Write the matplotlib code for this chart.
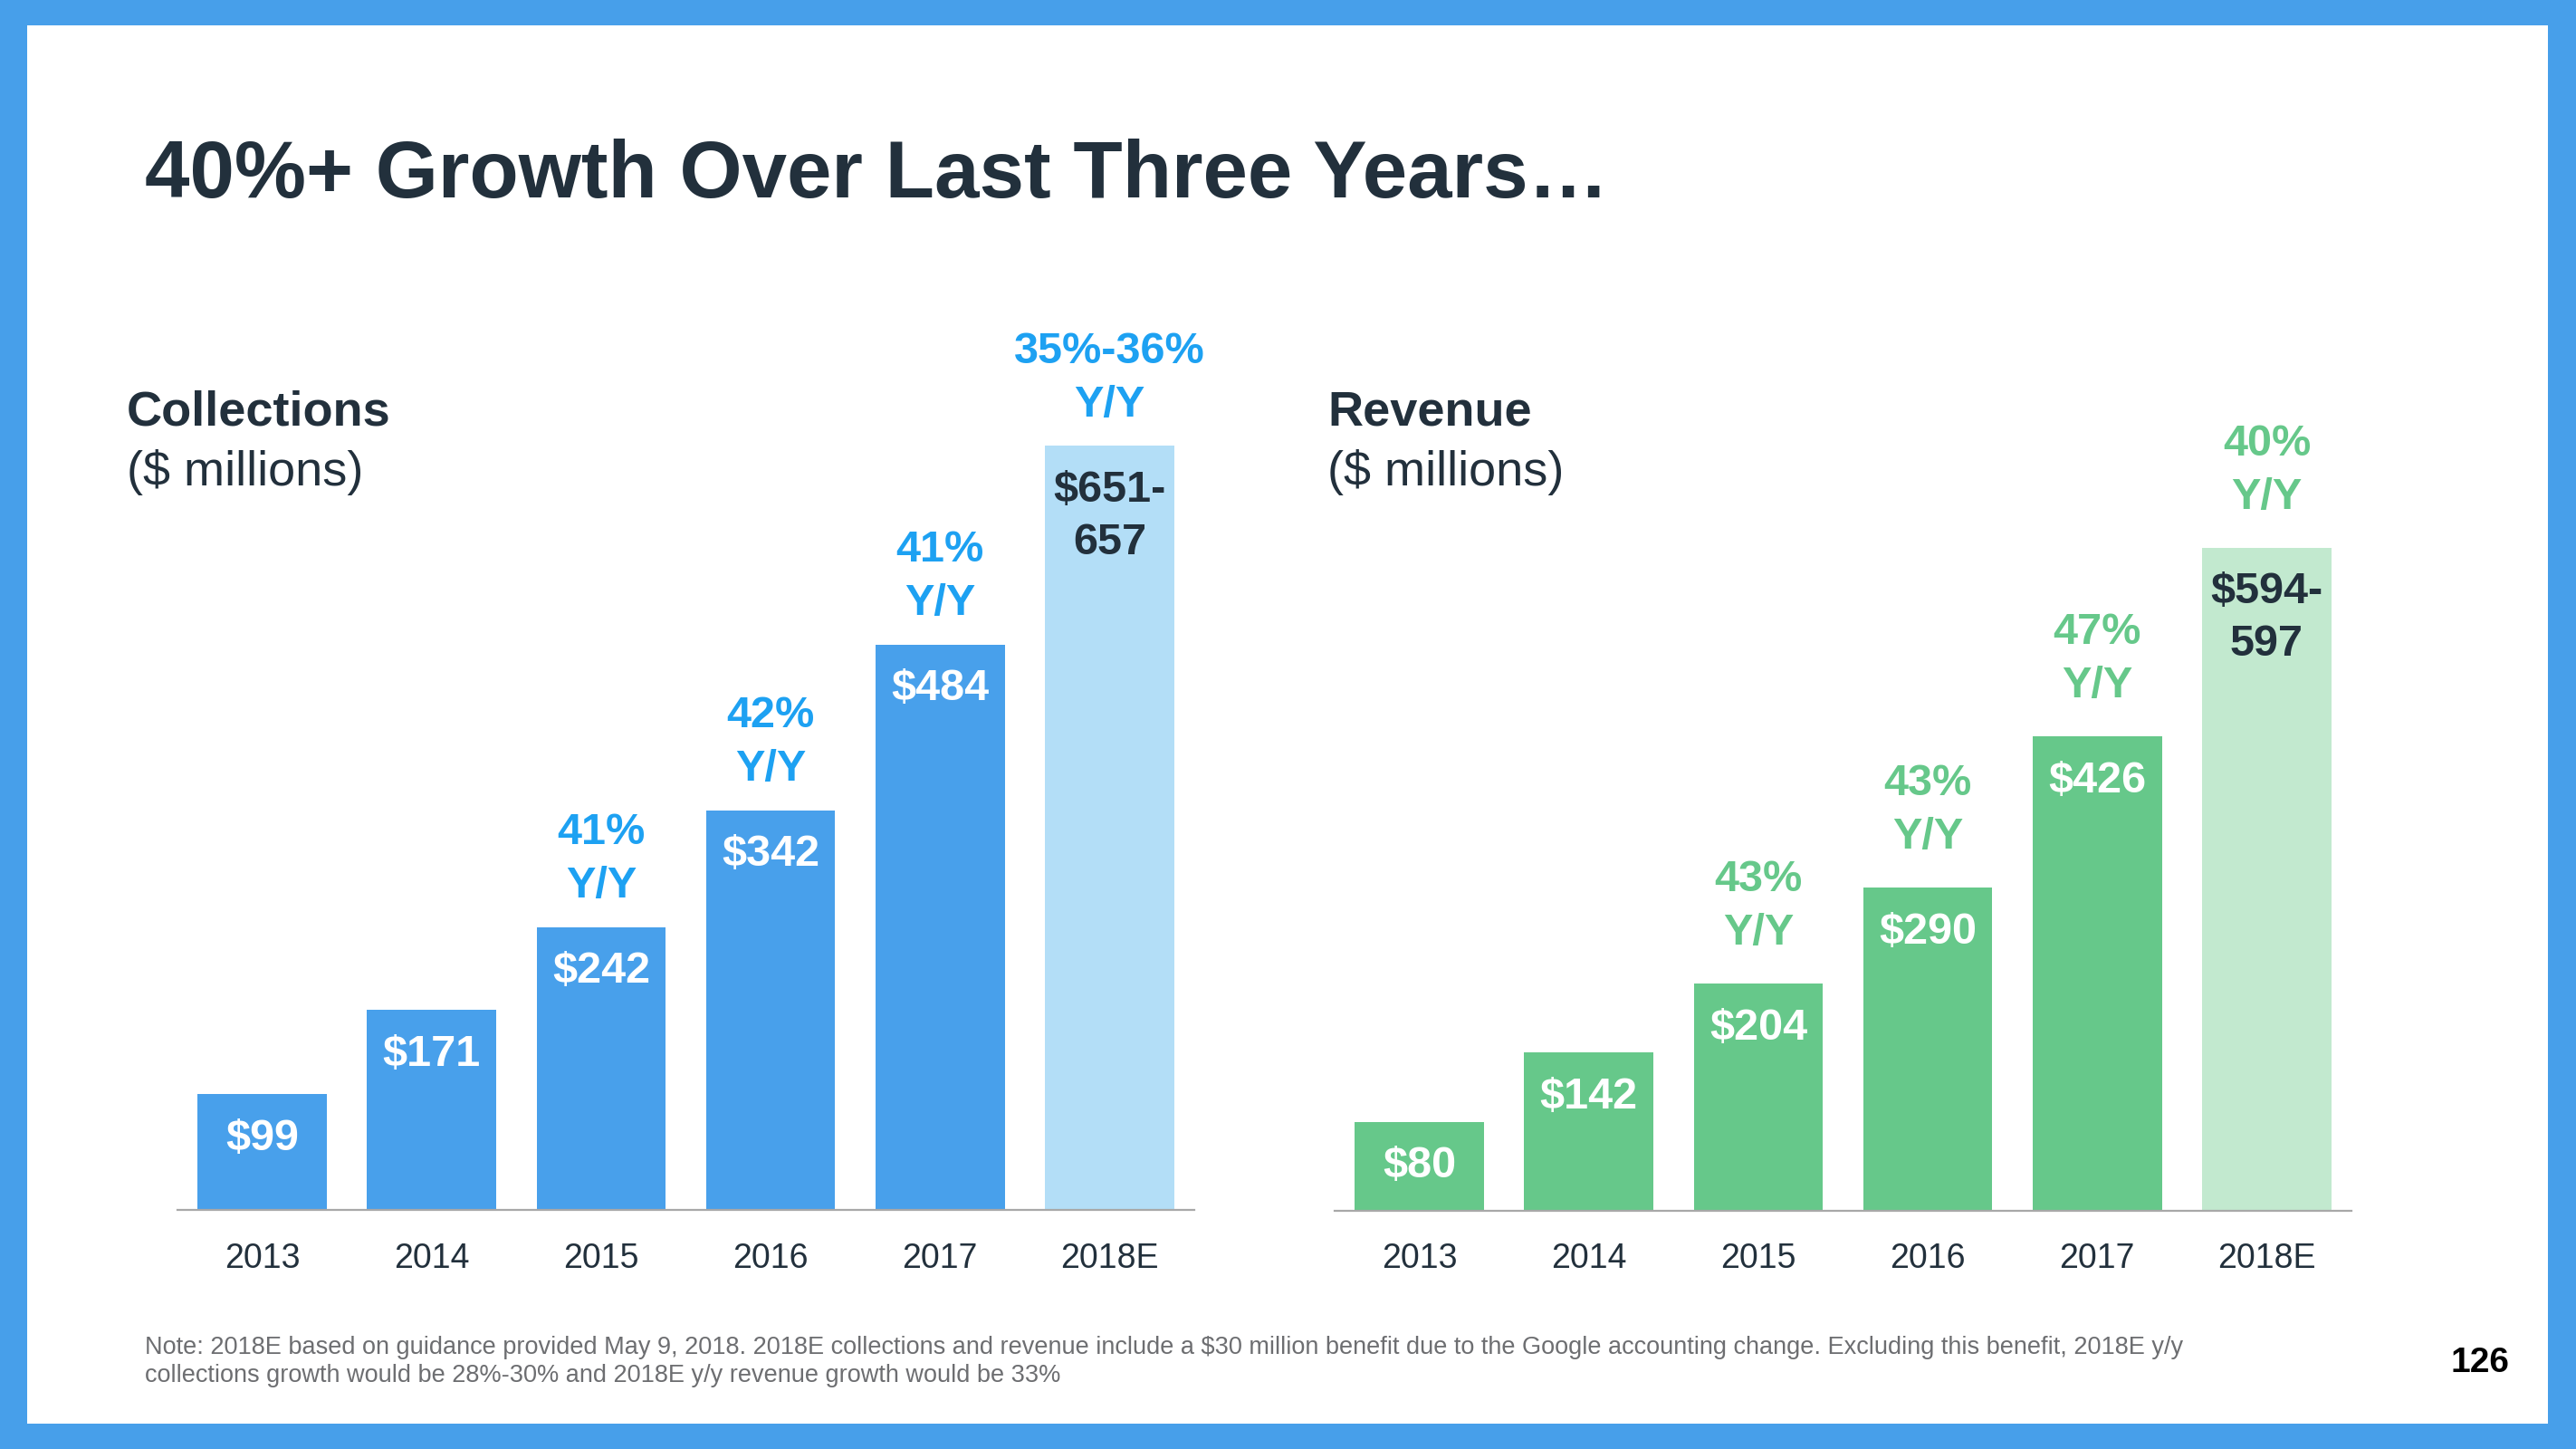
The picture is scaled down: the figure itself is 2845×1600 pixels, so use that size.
import matplotlib.pyplot as plt
from matplotlib.patches import Rectangle

plt.rcParams['font.family'] = ['Liberation Sans', 'DejaVu Sans']

years = ['2013', '2014', '2015', '2016', '2017', '2018E']

# collections ($ millions); 2018E bar drawn at middle of 651-657 guidance
collections = [99, 171, 242, 342, 484, 654]
collection_labels = ['$99', '$171', '$242', '$342', '$484', '$651-\n657']
collection_growth = ['', '', '41%\nY/Y', '42%\nY/Y', '41%\nY/Y', '35%-36%\nY/Y']

# revenue ($ millions); 2018E at middle of 594-597 guidance
revenue = [80, 142, 204, 290, 426, 595.5]
revenue_labels = ['$80', '$142', '$204', '$290', '$426', '$594-\n597']
revenue_growth = ['', '', '43%\nY/Y', '43%\nY/Y', '47%\nY/Y', '40%\nY/Y']

note = ("Note: 2018E based on guidance provided May 9, 2018. 2018E collections and revenue include a $30 million "
        "benefit due to the Google accounting change. Excluding this benefit, 2018E y/y\n"
        "collections growth would be 28%-30% and 2018E y/y revenue growth would be 33%")

BORDER = '#479FEA'
DARK = '#22303C'
W, H = 2845, 1600
PT = 0.72  # points per pixel at dpi 100

fig = plt.figure(figsize=(W / 100, H / 100), dpi=100)
fig.patch.set_facecolor(BORDER)
fig.patches.append(Rectangle((30 / W, 28 / H), (W - 61) / W, (H - 56) / H,
                             transform=fig.transFigure, facecolor='white',
                             edgecolor='none', zorder=-5))


def bar_panel(left_px, base_px, px_per_unit, values, labels, growth,
              bar_col, est_col, growth_col, g_off):
    ax = fig.add_axes([left_px / W, (H - base_px) / H, 1123 / W, 1000 / H])
    ax.set_facecolor('none')
    x = range(len(values))
    cols = [bar_col] * (len(values) - 1) + [est_col]
    ax.bar(x, values, width=0.763, color=cols, zorder=2)
    ax.set_xlim(-0.5, len(values) - 0.5)
    ax.set_ylim(0, 1000 / px_per_unit)
    for s in ['top', 'right', 'left']:
        ax.spines[s].set_visible(False)
    ax.spines['bottom'].set_color('#A8A8A8')
    ax.spines['bottom'].set_linewidth(1.6)
    ax.set_yticks([])
    ax.set_xticks([])
    for i, v in enumerate(values):
        ax.annotate(years[i], (i, 0), xytext=(0, -63.5 * PT), textcoords='offset points',
                    ha='center', va='baseline', fontsize=27, color=DARK)
        lab_col = DARK if i == len(values) - 1 else 'white'
        for k, line in enumerate(labels[i].split('\n')):
            ax.annotate(line, (i, v), xytext=(0, -(61.5 + 58 * k) * PT),
                        textcoords='offset points', ha='center', va='baseline',
                        fontsize=35, fontweight='bold', color=lab_col, zorder=3)
        if growth[i]:
            lines = growth[i].split('\n')
            for k, line in enumerate(reversed(lines)):
                ax.annotate(line, (i, v), xytext=(0, (g_off + 59 * k) * PT),
                            textcoords='offset points', ha='center', va='baseline',
                            fontsize=35, fontweight='bold', color=growth_col)
    return ax


bar_panel(196, 1336, 1.29, collections, collection_labels, collection_growth,
          '#48A0EB', '#B3DEF7', '#1DA1F2', 32.5)
bar_panel(1474, 1337, 1.23, revenue, revenue_labels, revenue_growth,
          '#66C88A', '#C2E9CF', '#66C88A', 43)

fig.text(160 / W, 1 - 218 / H, '40%+ Growth Over Last Three Years…', fontsize=64,
         fontweight='bold', color=DARK, va='baseline', ha='left')

fig.text(140 / W, 1 - 470 / H, 'Collections', fontsize=39, fontweight='bold',
         color=DARK, va='baseline')
fig.text(140 / W, 1 - 536 / H, '($ millions)', fontsize=39, color=DARK, va='baseline')
fig.text(1466 / W, 1 - 470 / H, 'Revenue', fontsize=39, fontweight='bold',
         color=DARK, va='baseline')
fig.text(1466 / W, 1 - 536 / H, '($ millions)', fontsize=39, color=DARK, va='baseline')

for k, line in enumerate(note.split('\n')):
    fig.text(160 / W, 1 - (1495 + 31 * k) / H, line, fontsize=19.5, color='#6D6E71',
             va='baseline')
fig.text(2739 / W, 1 - 1515 / H, '126', fontsize=28, fontweight='bold', color='black',
         ha='center', va='baseline')

fig.savefig('out.png', dpi=100, facecolor=fig.get_facecolor())
